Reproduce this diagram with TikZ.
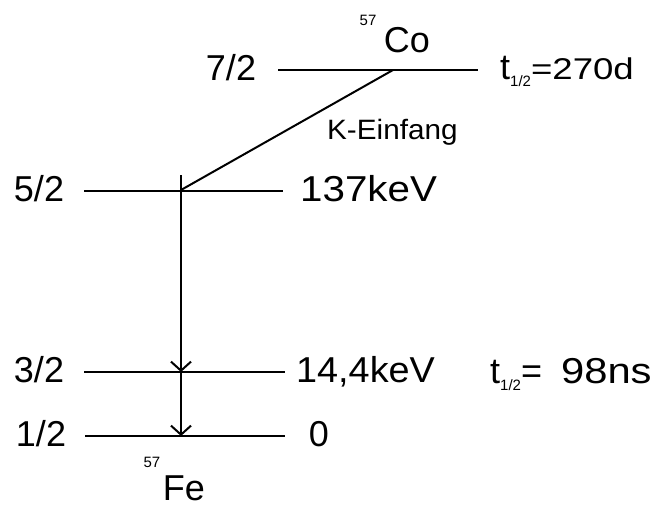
\documentclass[tikz,border=0pt]{standalone}
\usepackage{fontspec}
\setmainfont{Liberation Sans}
\usetikzlibrary{arrows.meta}
\newcommand{\bigfs}{\fontsize{36}{40}\selectfont}
\newcommand{\midfs}{\fontsize{30}{34}\selectfont}
\newcommand{\smlfs}{\fontsize{15}{17}\selectfont}
\begin{document}
\begin{tikzpicture}[x=1pt,y=-1pt,
  level/.style={line width=2.8pt},
  trans/.style={line width=2pt},
  lbl/.style={inner sep=0pt,anchor=base,font=\bigfs},
  lblw/.style={inner sep=0pt,anchor=base west,font=\bigfs},
  tip/.style={-{Straight Barb[length=9pt,width=20pt,line width=2pt]}}]
\useasboundingbox (0,0) rectangle (654,507);
% level lines
\coordinate (a1) at (278,70);  \coordinate (a2) at (478,70);
\coordinate (b1) at (84,191);  \coordinate (b2) at (283,191);
\coordinate (c1) at (84,372);  \coordinate (c2) at (285,372);
\coordinate (d1) at (85,436);  \coordinate (d2) at (285,436);
\draw[level] (a1) -- (a2);
\draw[level] (b1) -- (b2);
\draw[level] (c1) -- (c2);
\draw[level] (d1) -- (d2);
% transitions
\coordinate (src) at (393,70);
\coordinate (k) at (181,190);
\coordinate (vtop) at (181,175);
\coordinate (v3) at (181,372);
\coordinate (v1) at (181,436);
\draw[trans] (src) -- (k);
\draw[trans,tip] (vtop) -- (v3);
\draw[trans,tip] (v3) -- (v1);
% spin labels
\node[lbl] (s7) at (231,80) {7/2};
\node[lbl] (s5) at (39,201) {5/2};
\node[lbl] (s3) at (39,382) {3/2};
\node[lbl] (s1) at (41,446) {1/2};
% energy labels
\node[lblw] (e137) at (300,201) {\scalebox{1.12}[1]{137keV}};
\node[lblw] (e14) at (296,382) {\scalebox{1.05}[1]{14,4keV}};
\node[lbl] (e0) at (319,446) {0};
% nuclide labels
\node[lbl] (co) at (407,52) {Co};
\node[inner sep=0pt,anchor=base,font=\smlfs] (co57) at (368,25) {57};
\node[lbl] (fe) at (184,500) {Fe};
\node[inner sep=0pt,anchor=base,font=\smlfs] (fe57) at (152,467) {57};
% K-Einfang
\node[inner sep=0pt,anchor=base west,font=\fontsize{28}{30}\selectfont] (ke) at (327,139) {\scalebox{1.06}[1]{K-Einfang}};
% half lives
\node[inner sep=0pt,anchor=base west] (th1) at (500,79)
  {{\bigfs t}\raisebox{-7pt}{\smlfs 1/2}{\midfs\scalebox{1.22}[1]{=270d}}};
\node[inner sep=0pt,anchor=base west] (th2) at (490,383)
  {{\bigfs t}\raisebox{-7pt}{\smlfs 1/2}{\bigfs =\hspace{19pt}\scalebox{1.16}[1]{98ns}}};
\end{tikzpicture}
\end{document}
